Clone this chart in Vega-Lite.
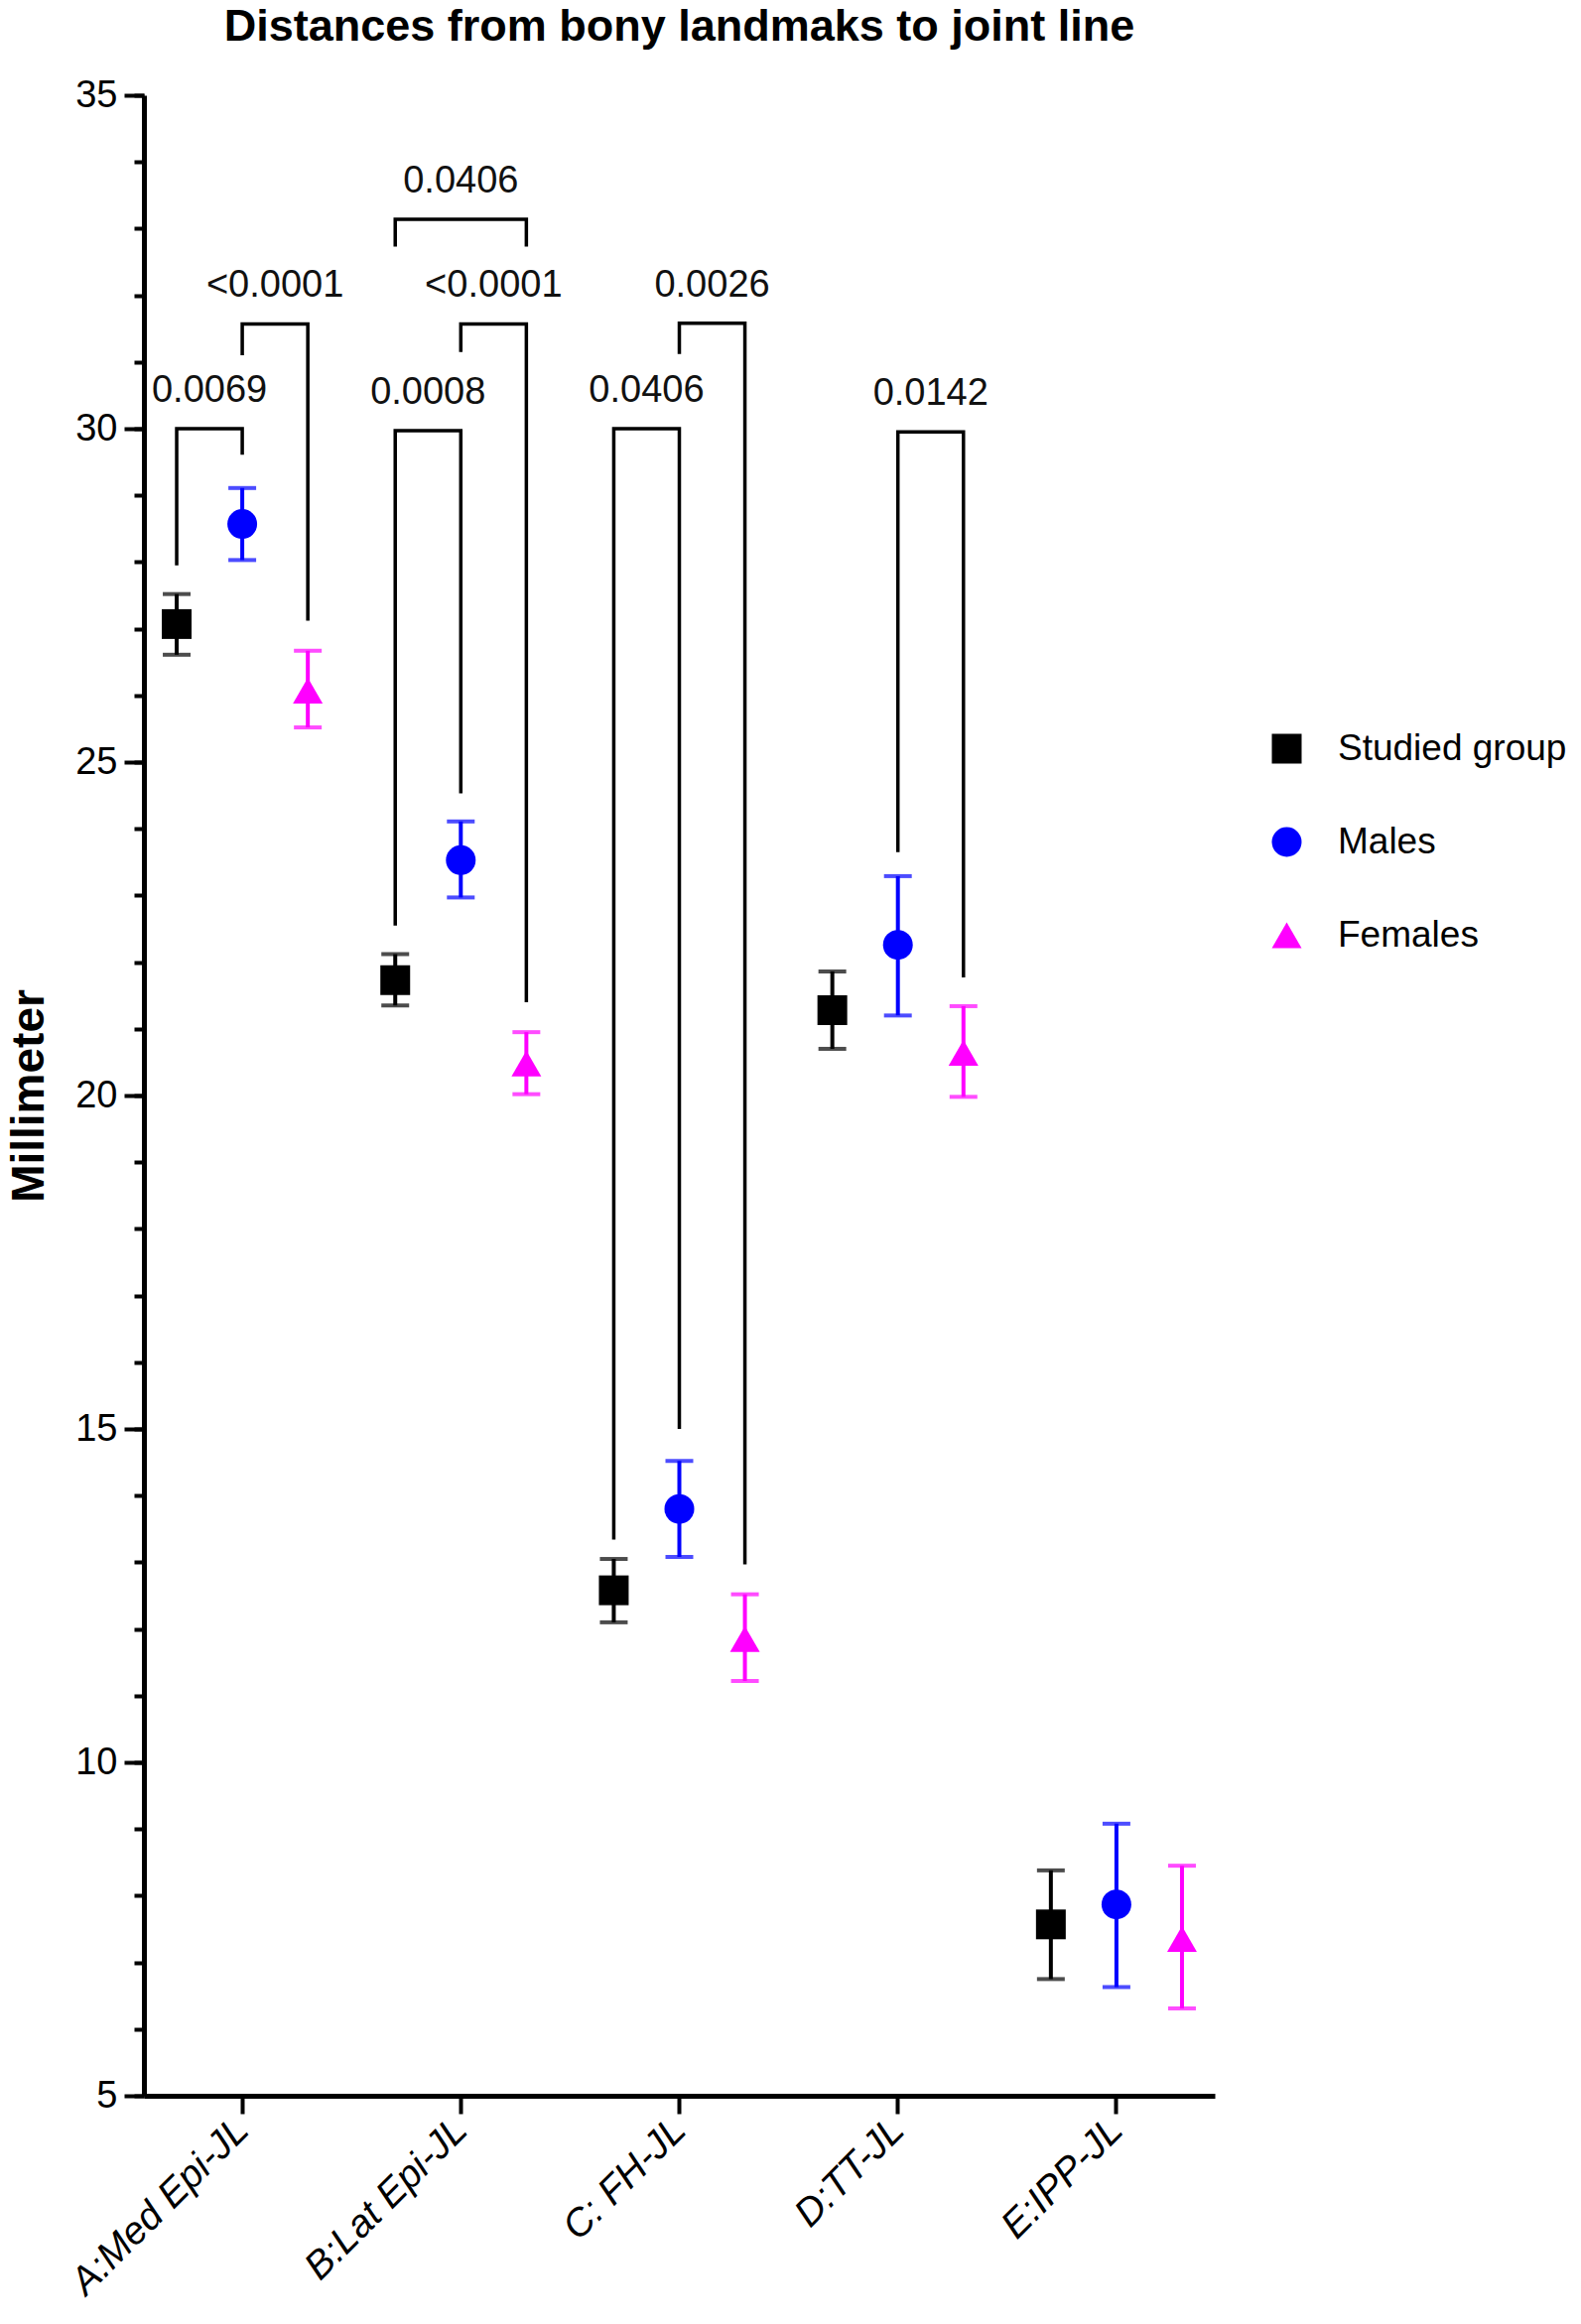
{
  "$schema": "https://vega.github.io/schema/vega-lite/v6.json",
  "width": 1079,
  "height": 2016,
  "autosize": {"type": "none"},
  "padding": {"left": 145, "top": 96, "right": 369, "bottom": 230},
  "background": "white",
  "title": {"text": "Distances from bony landmaks to joint line", "fontSize": 45, "fontWeight": "bold", "font": "Liberation Sans", "anchor": "middle", "frame": "group", "offset": 27, "color": "black"},
  "config": {"view": {"stroke": null}, "font": "Liberation Sans"},
  "datasets": {
    "stats": [
      {"cat": "A:Med Epi-JL", "group": "Studied group", "mean": 27.07, "lo": 26.61, "hi": 27.52},
      {"cat": "A:Med Epi-JL", "group": "Males", "mean": 28.57, "lo": 28.03, "hi": 29.11},
      {"cat": "A:Med Epi-JL", "group": "Females", "mean": 26.07, "lo": 25.52, "hi": 26.67},
      {"cat": "B:Lat Epi-JL", "group": "Studied group", "mean": 21.73, "lo": 21.35, "hi": 22.12},
      {"cat": "B:Lat Epi-JL", "group": "Males", "mean": 23.53, "lo": 22.97, "hi": 24.11},
      {"cat": "B:Lat Epi-JL", "group": "Females", "mean": 20.48, "lo": 20.02, "hi": 20.95},
      {"cat": "C: FH-JL", "group": "Studied group", "mean": 12.58, "lo": 12.1, "hi": 13.05},
      {"cat": "C: FH-JL", "group": "Males", "mean": 13.8, "lo": 13.08, "hi": 14.52},
      {"cat": "C: FH-JL", "group": "Females", "mean": 11.85, "lo": 11.22, "hi": 12.52},
      {"cat": "D:TT-JL", "group": "Studied group", "mean": 21.28, "lo": 20.7, "hi": 21.86},
      {"cat": "D:TT-JL", "group": "Males", "mean": 22.26, "lo": 21.2, "hi": 23.29},
      {"cat": "D:TT-JL", "group": "Females", "mean": 20.64, "lo": 19.98, "hi": 21.34},
      {"cat": "E:IPP-JL", "group": "Studied group", "mean": 7.57, "lo": 6.75, "hi": 8.38},
      {"cat": "E:IPP-JL", "group": "Males", "mean": 7.87, "lo": 6.63, "hi": 9.08},
      {"cat": "E:IPP-JL", "group": "Females", "mean": 7.35, "lo": 6.31, "hi": 8.45}
    ],
    "brackets": [
      {"b": 1, "cat": "A:Med Epi-JL", "pos": "Studied group", "y": 27.95, "step": 1},
      {"b": 1, "cat": "A:Med Epi-JL", "pos": "Studied group", "y": 30.0, "step": 2},
      {"b": 1, "cat": "A:Med Epi-JL", "pos": "Males", "y": 30.0, "step": 3},
      {"b": 1, "cat": "A:Med Epi-JL", "pos": "Males", "y": 29.61, "step": 4},
      {"b": 2, "cat": "A:Med Epi-JL", "pos": "Males", "y": 31.1, "step": 1},
      {"b": 2, "cat": "A:Med Epi-JL", "pos": "Males", "y": 31.57, "step": 2},
      {"b": 2, "cat": "A:Med Epi-JL", "pos": "Females", "y": 31.57, "step": 3},
      {"b": 2, "cat": "A:Med Epi-JL", "pos": "Females", "y": 27.12, "step": 4},
      {"b": 3, "cat": "B:Lat Epi-JL", "pos": "Studied group", "y": 22.55, "step": 1},
      {"b": 3, "cat": "B:Lat Epi-JL", "pos": "Studied group", "y": 29.97, "step": 2},
      {"b": 3, "cat": "B:Lat Epi-JL", "pos": "Males", "y": 29.97, "step": 3},
      {"b": 3, "cat": "B:Lat Epi-JL", "pos": "Males", "y": 24.53, "step": 4},
      {"b": 4, "cat": "B:Lat Epi-JL", "pos": "Males", "y": 31.15, "step": 1},
      {"b": 4, "cat": "B:Lat Epi-JL", "pos": "Males", "y": 31.57, "step": 2},
      {"b": 4, "cat": "B:Lat Epi-JL", "pos": "Females", "y": 31.57, "step": 3},
      {"b": 4, "cat": "B:Lat Epi-JL", "pos": "Females", "y": 21.4, "step": 4},
      {"b": 5, "cat": "B:Lat Epi-JL", "pos": "Studied group", "y": 32.73, "step": 1},
      {"b": 5, "cat": "B:Lat Epi-JL", "pos": "Studied group", "y": 33.14, "step": 2},
      {"b": 5, "cat": "B:Lat Epi-JL", "pos": "Females", "y": 33.14, "step": 3},
      {"b": 5, "cat": "B:Lat Epi-JL", "pos": "Females", "y": 32.73, "step": 4},
      {"b": 6, "cat": "C: FH-JL", "pos": "Studied group", "y": 13.34, "step": 1},
      {"b": 6, "cat": "C: FH-JL", "pos": "Studied group", "y": 30.0, "step": 2},
      {"b": 6, "cat": "C: FH-JL", "pos": "Males", "y": 30.0, "step": 3},
      {"b": 6, "cat": "C: FH-JL", "pos": "Males", "y": 15.0, "step": 4},
      {"b": 7, "cat": "C: FH-JL", "pos": "Males", "y": 31.12, "step": 1},
      {"b": 7, "cat": "C: FH-JL", "pos": "Males", "y": 31.58, "step": 2},
      {"b": 7, "cat": "C: FH-JL", "pos": "Females", "y": 31.58, "step": 3},
      {"b": 7, "cat": "C: FH-JL", "pos": "Females", "y": 12.97, "step": 4},
      {"b": 8, "cat": "D:TT-JL", "pos": "Males", "y": 23.65, "step": 1},
      {"b": 8, "cat": "D:TT-JL", "pos": "Males", "y": 29.95, "step": 2},
      {"b": 8, "cat": "D:TT-JL", "pos": "Females", "y": 29.95, "step": 3},
      {"b": 8, "cat": "D:TT-JL", "pos": "Females", "y": 21.77, "step": 4}
    ],
    "labels": [
      {"cat": "A:Med Epi-JL", "pos": "S|M", "top": 30.0, "p": "0.0069"},
      {"cat": "A:Med Epi-JL", "pos": "M|F", "top": 31.57, "p": "<0.0001"},
      {"cat": "B:Lat Epi-JL", "pos": "S|M", "top": 29.97, "p": "0.0008"},
      {"cat": "B:Lat Epi-JL", "pos": "M|F", "top": 31.57, "p": "<0.0001"},
      {"cat": "B:Lat Epi-JL", "pos": "Males", "top": 33.14, "p": "0.0406"},
      {"cat": "C: FH-JL", "pos": "S|M", "top": 30.0, "p": "0.0406"},
      {"cat": "C: FH-JL", "pos": "M|F", "top": 31.58, "p": "0.0026"},
      {"cat": "D:TT-JL", "pos": "M|F", "top": 29.95, "p": "0.0142"}
    ]
  },
  "resolve": {"axis": {"y": "independent"}},
  "encoding": {
    "x": {
      "field": "cat", "type": "nominal",
      "sort": ["A:Med Epi-JL", "B:Lat Epi-JL", "C: FH-JL", "D:TT-JL", "E:IPP-JL"],
      "scale": {"type": "band", "paddingInner": 0.1, "paddingOuter": 0, "domain": ["A:Med Epi-JL", "B:Lat Epi-JL", "C: FH-JL", "D:TT-JL", "E:IPP-JL"]},
      "axis": {"title": null, "labelAngle": -45, "labelAlign": "right", "labelBaseline": "middle", "labelFontSize": 39, "labelFont": "Liberation Sans", "labelFontStyle": "italic", "labelColor": "black", "labelPadding": 10, "labelLimit": 0, "tickSize": 18, "tickWidth": 4, "tickColor": "black", "domainWidth": 5, "domainColor": "black", "grid": false, "ticks": true}
    }
  },
  "layer": [
    {
      "data": {"name": "brackets"},
      "mark": {"type": "line", "color": "black", "strokeWidth": 3.5, "interpolate": "linear"},
      "encoding": {
        "xOffset": {"field": "pos", "type": "nominal", "scale": {"type": "point", "padding": 1.3, "domain": ["Studied group", "S|M", "Males", "M|F", "Females"]}},
        "y": {"field": "y", "type": "quantitative", "scale": {"domain": [5, 35], "nice": false, "zero": false}, "axis": null},
        "detail": {"field": "b", "type": "nominal"},
        "order": {"field": "step", "type": "quantitative"}
      }
    },
    {
      "data": {"name": "stats"},
      "mark": {"type": "rule", "strokeWidth": 4},
      "encoding": {
        "xOffset": {"field": "group", "type": "nominal", "scale": {"type": "point", "padding": 1.3, "domain": ["Studied group", "S|M", "Males", "M|F", "Females"]}},
        "y": {"field": "lo", "type": "quantitative", "scale": {"domain": [5, 35], "nice": false, "zero": false},
              "axis": {"orient": "left", "values": [5,6,7,8,9,10,11,12,13,14,15,16,17,18,19,20,21,22,23,24,25,26,27,28,29,30,31,32,33,34,35], "labels": false, "tickSize": 10, "tickWidth": 4, "tickColor": "black", "domain": false, "grid": false, "title": null}},
        "y2": {"field": "hi"},
        "stroke": {"field": "group", "type": "nominal", "scale": {"domain": ["Females", "Males", "Studied group"], "range": ["#ff00ff", "#0000ff", "#000000"]}, "legend": null}
      }
    },
    {
      "data": {"name": "stats"},
      "mark": {"type": "tick", "size": 28, "thickness": 4},
      "encoding": {
        "xOffset": {"field": "group", "type": "nominal", "scale": {"type": "point", "padding": 1.3, "domain": ["Studied group", "S|M", "Males", "M|F", "Females"]}},
        "y": {"field": "lo", "type": "quantitative", "scale": {"domain": [5, 35], "nice": false, "zero": false}, "axis": null},
        "fill": {"field": "group", "type": "nominal", "scale": {"domain": ["Males", "Females", "Studied group"], "range": ["#0000ff", "#ff00ff", "#000000"]}, "legend": null}
      }
    },
    {
      "data": {"name": "stats"},
      "mark": {"type": "tick", "size": 28, "thickness": 4},
      "encoding": {
        "xOffset": {"field": "group", "type": "nominal", "scale": {"type": "point", "padding": 1.3, "domain": ["Studied group", "S|M", "Males", "M|F", "Females"]}},
        "y": {"field": "hi", "type": "quantitative", "scale": {"domain": [5, 35], "nice": false, "zero": false}, "axis": null},
        "fill": {"field": "group", "type": "nominal", "scale": {"domain": ["Males", "Females", "Studied group"], "range": ["#0000ff", "#ff00ff", "#000000"]}, "legend": null}
      }
    },
    {
      "data": {"name": "stats"},
      "mark": {"type": "point", "filled": true, "size": 900, "opacity": 1},
      "encoding": {
        "xOffset": {"field": "group", "type": "nominal", "scale": {"type": "point", "padding": 1.3, "domain": ["Studied group", "S|M", "Males", "M|F", "Females"]}},
        "y": {"field": "mean", "type": "quantitative", "scale": {"domain": [5, 35], "nice": false, "zero": false},
              "axis": {"orient": "left", "values": [5, 10, 15, 20, 25, 30, 35], "title": "Millimeter", "titleFontSize": 46, "titleFontWeight": "bold", "titleFont": "Liberation Sans", "titleColor": "black", "titlePadding": 22, "labelFontSize": 38, "labelFont": "Liberation Sans", "labelColor": "black", "labelPadding": 7, "tickSize": 20, "tickWidth": 4, "tickColor": "black", "domainWidth": 5, "domainColor": "black", "grid": false}},
        "color": {"field": "group", "type": "nominal", "scale": {"domain": ["Studied group", "Males", "Females"], "range": ["#000000", "#0000ff", "#ff00ff"]},
                  "legend": {"title": null, "orient": "none", "legendX": 1133, "legendY": 640, "labelFontSize": 37, "labelFont": "Liberation Sans", "labelColor": "black", "symbolSize": 900, "labelOffset": 33, "rowPadding": 56, "symbolStrokeWidth": 0, "padding": 0, "labelLimit": 0}},
        "shape": {"field": "group", "type": "nominal", "scale": {"domain": ["Studied group", "Males", "Females"], "range": ["square", "circle", "triangle-up"]},
                  "legend": {"title": null, "orient": "none", "legendX": 1133, "legendY": 640, "labelFontSize": 37, "labelFont": "Liberation Sans", "labelColor": "black", "symbolSize": 900, "labelOffset": 33, "rowPadding": 56, "symbolStrokeWidth": 0, "padding": 0, "labelLimit": 0}}
      }
    },
    {
      "data": {"name": "labels"},
      "mark": {"type": "text", "fontSize": 38, "font": "Liberation Sans", "color": "#111111", "align": "center", "baseline": "alphabetic", "dy": -27},
      "encoding": {
        "xOffset": {"field": "pos", "type": "nominal", "scale": {"type": "point", "padding": 1.3, "domain": ["Studied group", "S|M", "Males", "M|F", "Females"]}},
        "y": {"field": "top", "type": "quantitative", "scale": {"domain": [5, 35], "nice": false, "zero": false}, "axis": null},
        "text": {"field": "p", "type": "nominal"}
      }
    }
  ]
}
